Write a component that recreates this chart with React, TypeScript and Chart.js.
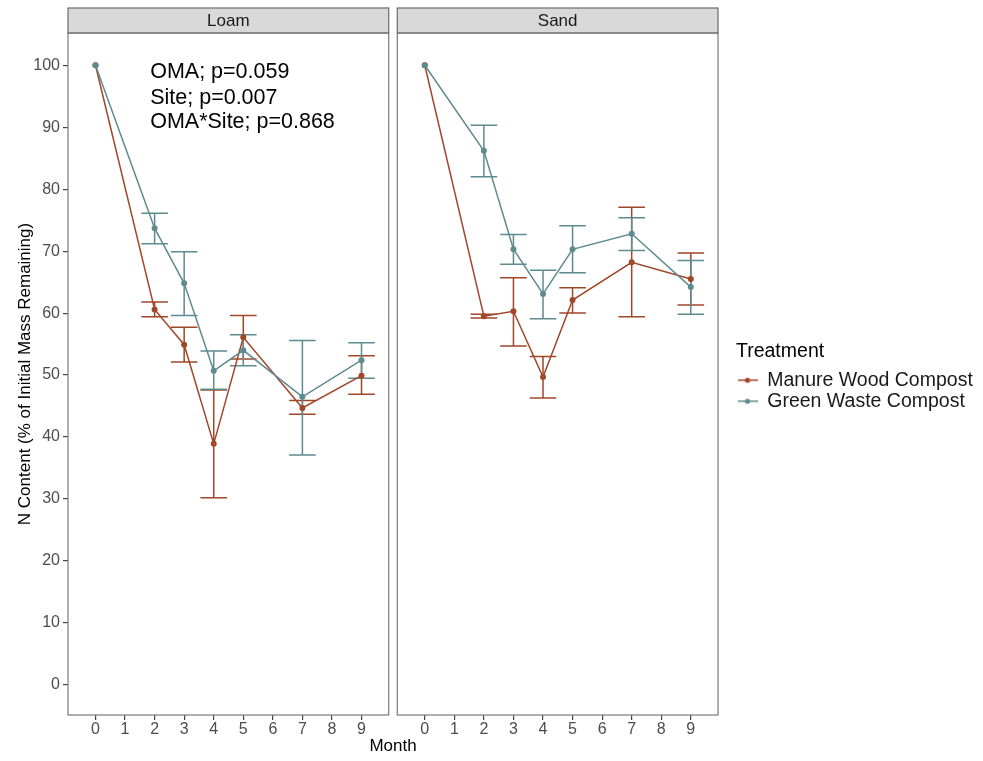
import React, { useEffect, useRef } from 'react';
import { Chart, registerables } from 'chart.js';

Chart.register(...registerables);

const FONT = '"Liberation Sans", Arial, Helvetica, sans-serif';

// ---- data ----
const months = [0, 2, 3, 4, 5, 7, 9];
const xTickMonths = [0, 1, 2, 3, 4, 5, 6, 7, 8, 9];
const yTickValues = [0, 10, 20, 30, 40, 50, 60, 70, 80, 90, 100];
const panels = ['Loam', 'Sand'];
const treatments = ['Manure Wood Compost', 'Green Waste Compost'];
const treatmentColors = ['#A0472A', '#5E8B90'];

const loamManure = [100, 60.6, 54.9, 38.9, 56.1, 44.7, 49.9];
const loamManureLow = [100, 59.4, 52.1, 30.2, 52.6, 43.7, 46.9];
const loamManureHigh = [100, 61.8, 57.7, 47.6, 59.6, 45.9, 53.1];
const loamGreen = [100, 73.7, 64.8, 50.7, 54.0, 46.5, 52.4];
const loamGreenLow = [100, 71.2, 59.6, 47.7, 51.5, 37.1, 49.5];
const loamGreenHigh = [100, 76.1, 69.9, 53.9, 56.5, 55.6, 55.2];

const sandManure = [100, 59.5, 60.3, 49.7, 62.1, 68.2, 65.5];
const sandManureLow = [100, 59.2, 54.7, 46.3, 60.0, 59.4, 61.3];
const sandManureHigh = [100, 59.8, 65.7, 53.0, 64.1, 77.1, 69.7];
const sandGreen = [100, 86.2, 70.3, 63.1, 70.3, 72.8, 64.2];
const sandGreenLow = [100, 82.0, 67.9, 59.1, 66.5, 70.1, 59.8];
const sandGreenHigh = [100, 90.3, 72.7, 66.9, 74.1, 75.4, 68.5];

const annotationLines = ['OMA; p=0.059', 'Site; p=0.007', 'OMA*Site; p=0.868'];
const annotationX = 1.85;
const annotationY = [98.9, 94.7, 90.8];

// ---- layout (in axis units) ----
const PANEL_MIN = -0.93;
const PANEL_MAX = 9.92;
const PANEL_GAP = 0.29;
const SAND_OFFSET = PANEL_MAX + PANEL_GAP - PANEL_MIN;
const panelOffsets = [0, SAND_OFFSET];
const Y_MIN = -4.85;
const Y_MAX = 105.2;
const CAP_HALF = 0.45;
const LEGEND_WIDTH = 265;
const LEGEND_SHIFT_X = 18;
const LEGEND_SHIFT_Y = -20;

function makeKey(color: string) {
  const c = document.createElement('canvas');
  c.width = 20;
  c.height = 12;
  const g = c.getContext('2d')!;
  g.strokeStyle = color;
  g.lineWidth = 1.5;
  g.beginPath();
  g.moveTo(0, 6);
  g.lineTo(20, 6);
  g.stroke();
  g.fillStyle = color;
  g.beginPath();
  g.arc(10, 6, 2.6, 0, Math.PI * 2);
  g.fill();
  return c;
}

const panelPlugin = {
  id: 'panels',
  beforeDatasetsDraw(chart: any) {
    const { ctx, chartArea, scales } = chart;
    const x = scales.x;
    ctx.save();
    panels.forEach((name, i) => {
      const l = x.getPixelForValue(PANEL_MIN + panelOffsets[i]);
      const r = x.getPixelForValue(PANEL_MAX + panelOffsets[i]);
      // strip
      ctx.fillStyle = '#d9d9d9';
      ctx.fillRect(l, 8, r - l, chartArea.top - 8);
      ctx.strokeStyle = '#6b6b6b';
      ctx.lineWidth = 1.2;
      ctx.strokeRect(l, 8, r - l, chartArea.top - 8);
      ctx.fillStyle = '#1a1a1a';
      ctx.font = `17px ${FONT}`;
      ctx.textAlign = 'center';
      ctx.textBaseline = 'middle';
      ctx.fillText(name, (l + r) / 2, (8 + chartArea.top) / 2 + 1);
      // panel border
      ctx.strokeStyle = '#7a7a7a';
      ctx.lineWidth = 1.2;
      ctx.strokeRect(l, chartArea.top, r - l, chartArea.bottom - chartArea.top);
    });
    ctx.restore();
  },
};

const errorBarPlugin = {
  id: 'errorBars',
  beforeDatasetsDraw(chart: any) {
    const { ctx, scales } = chart;
    const { x, y } = scales;
    chart.data.datasets.forEach((ds: any) => {
      ctx.save();
      ctx.strokeStyle = ds.borderColor;
      ctx.lineWidth = 1.5;
      ds.errLow.forEach((lo: number, i: number) => {
        const hi = ds.errHigh[i];
        if (hi - lo < 0.01) return;
        const xv = ds.data[i].x;
        const px = x.getPixelForValue(xv);
        const pa = x.getPixelForValue(xv - CAP_HALF);
        const pb = x.getPixelForValue(xv + CAP_HALF);
        const pl = y.getPixelForValue(lo);
        const ph = y.getPixelForValue(hi);
        ctx.beginPath();
        ctx.moveTo(px, pl);
        ctx.lineTo(px, ph);
        ctx.moveTo(pa, pl);
        ctx.lineTo(pb, pl);
        ctx.moveTo(pa, ph);
        ctx.lineTo(pb, ph);
        ctx.stroke();
      });
      ctx.restore();
    });
  },
};

const annotationPlugin = {
  id: 'annotation',
  afterDatasetsDraw(chart: any) {
    const { ctx, scales } = chart;
    ctx.save();
    ctx.fillStyle = '#000';
    ctx.font = `21.5px ${FONT}`;
    ctx.textAlign = 'left';
    ctx.textBaseline = 'middle';
    annotationLines.forEach((t, i) => {
      ctx.fillText(t, scales.x.getPixelForValue(annotationX), scales.y.getPixelForValue(annotationY[i]));
    });
    ctx.restore();
  },
};

const legendPlacement = {
  id: 'legendPlacement',
  beforeLayout(chart: any) {
    const lg: any = chart.legend;
    if (lg && !lg.__fixed) {
      const fit = lg.fit.bind(lg);
      lg.fit = function () {
        fit();
        this.width = LEGEND_WIDTH;
      };
      lg.__fixed = true;
    }
  },
  afterLayout(chart: any) {
    const lg: any = chart.legend;
    if (lg) {
      lg.left += LEGEND_SHIFT_X;
      lg.right += LEGEND_SHIFT_X;
      lg.top += LEGEND_SHIFT_Y;
      lg.bottom += LEGEND_SHIFT_Y;
    }
  },
};

export default function App() {
  const ref = useRef<HTMLCanvasElement | null>(null);

  useEffect(() => {
    if (!ref.current) return;
    const series = [
      { panel: 0, t: 0, v: loamManure, lo: loamManureLow, hi: loamManureHigh },
      { panel: 0, t: 1, v: loamGreen, lo: loamGreenLow, hi: loamGreenHigh },
      { panel: 1, t: 0, v: sandManure, lo: sandManureLow, hi: sandManureHigh },
      { panel: 1, t: 1, v: sandGreen, lo: sandGreenLow, hi: sandGreenHigh },
    ];
    const keys = treatmentColors.map(makeKey);
    const datasets = series.map((s) => ({
      label: `${panels[s.panel]} - ${treatments[s.t]}`,
      data: months.map((m, i) => ({ x: m + panelOffsets[s.panel], y: s.v[i] })),
      errLow: s.lo,
      errHigh: s.hi,
      borderColor: treatmentColors[s.t],
      backgroundColor: treatmentColors[s.t],
      borderWidth: 1.5,
      pointRadius: 3,
      pointHoverRadius: 3,
      pointBorderWidth: 0,
      tension: 0,
      order: s.t === 1 ? 0 : 1,
    }));

    const chart = new Chart(ref.current, {
      type: 'line',
      data: { datasets: datasets as any },
      plugins: [legendPlacement, panelPlugin, errorBarPlugin, annotationPlugin],
      options: {
        animation: false,
        responsive: false,
        devicePixelRatio: 1,
        layout: { padding: { top: 33, right: 0, bottom: 0, left: 0 } },
        scales: {
          x: {
            type: 'linear',
            min: PANEL_MIN,
            max: PANEL_MAX + SAND_OFFSET,
            afterBuildTicks: (scale: any) => {
              const vals: number[] = [];
              panelOffsets.forEach((o) => xTickMonths.forEach((m) => vals.push(m + o)));
              scale.ticks = vals.map((v) => ({ value: v }));
            },
            afterFit: (scale: any) => {
              scale.height = 46;
            },
            ticks: {
              autoSkip: false,
              maxRotation: 0,
              padding: 0,
              color: '#4d4d4d',
              font: { family: FONT, size: 16 },
              callback: (value: any) => {
                const v = Number(value);
                return String(Math.round(v >= SAND_OFFSET + PANEL_MIN ? v - SAND_OFFSET : v));
              },
            },
            grid: { display: true, drawOnChartArea: false, drawTicks: true, tickLength: 5, color: '#444', lineWidth: 1.2 },
            border: { display: false },
            title: { display: true, text: 'Month', color: '#000', font: { family: FONT, size: 17 }, padding: { top: 0, bottom: 4 } },
          },
          y: {
            type: 'linear',
            min: Y_MIN,
            max: Y_MAX,
            afterBuildTicks: (scale: any) => {
              scale.ticks = yTickValues.map((v) => ({ value: v }));
            },
            afterFit: (scale: any) => {
              scale.width = 68;
            },
            ticks: { padding: 3, color: '#4d4d4d', font: { family: FONT, size: 16 } },
            grid: { display: true, drawOnChartArea: false, drawTicks: true, tickLength: 5, color: '#444', lineWidth: 1.2 },
            border: { display: false },
            title: {
              display: true,
              text: 'N Content (% of Initial Mass Remaining)',
              color: '#000',
              font: { family: FONT, size: 17 },
              padding: { top: 15, bottom: 0 },
            },
          },
        },
        plugins: {
          tooltip: { enabled: false },
          legend: {
            display: true,
            position: 'right',
            align: 'center',
            title: {
              display: true,
              text: 'Treatment',
              color: '#000',
              position: 'start',
              font: { family: FONT, size: 19.5 },
              padding: { top: 0, bottom: 4 },
            },
            labels: {
              usePointStyle: true,
              pointStyleWidth: 20,
              boxHeight: 12,
              padding: 1.5,
              color: '#1a1a1a',
              font: { family: FONT, size: 19.5 },
              generateLabels: () =>
                treatments.map((t, i) => ({
                  text: t,
                  fillStyle: treatmentColors[i],
                  strokeStyle: treatmentColors[i],
                  fontColor: '#1a1a1a',
                  lineWidth: 0,
                  pointStyle: keys[i] as any,
                  hidden: false,
                  datasetIndex: i,
                })),
            },
          },
        },
      } as any,
    });
    return () => chart.destroy();
  }, []);

  return (
    <div style={{ position: 'absolute', left: 0, top: 0, width: 983, height: 761, background: '#fff' }}>
      <canvas ref={ref} width={983} height={761} style={{ display: 'block', width: 983, height: 761 }} />
    </div>
  );
}
